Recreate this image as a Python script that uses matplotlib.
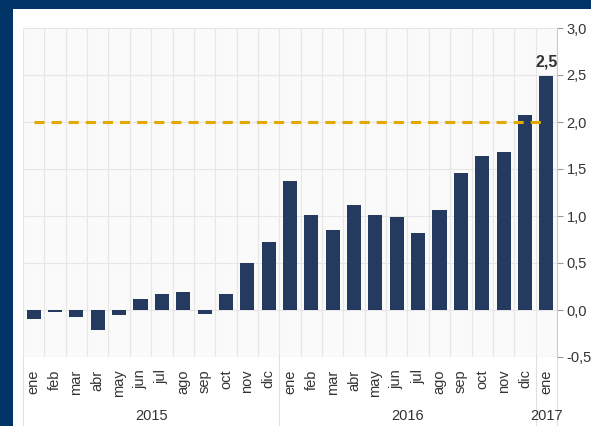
import numpy as np
import matplotlib
matplotlib.use('Agg')
import matplotlib.pyplot as plt
from matplotlib.patches import Rectangle
from matplotlib.ticker import FuncFormatter
import matplotlib.transforms as mtransforms

plt.rcParams['font.family'] = ['Liberation Sans', 'DejaVu Sans']

# datos
months = ['ene', 'feb', 'mar', 'abr', 'may', 'jun', 'jul', 'ago', 'sep', 'oct', 'nov', 'dic',
          'ene', 'feb', 'mar', 'abr', 'may', 'jun', 'jul', 'ago', 'sep', 'oct', 'nov', 'dic',
          'ene']
values = [-0.10, -0.02, -0.07, -0.21, -0.05, 0.12, 0.17, 0.19, -0.04, 0.17, 0.50, 0.72,
          1.37, 1.01, 0.85, 1.12, 1.01, 0.99, 0.82, 1.06, 1.46, 1.64, 1.68, 2.07,
          2.49]
years = ['2015', '2016', '2017']
year_counts = [12, 12, 1]
target = 2.0
last_label = '2,5'

W, H = 591, 426
fig = plt.figure(figsize=(W / 100, H / 100), dpi=100)
fig.patch.set_facecolor('#003366')
fig.patches.append(Rectangle((13 / W, 0), 1, (H - 9) / H, transform=fig.transFigure,
                             facecolor='white', edgecolor='none', zorder=-10))

ax = fig.add_axes([23 / W, (H - 357) / H, 534 / W, 329 / H])
ax.set_facecolor('#fafafa')

x = np.arange(len(values))
ax.bar(x, values, width=0.66, color='#243a5e', zorder=3)
ax.plot([x[0], x[-1]], [target, target], color='#e2aa00', lw=2.2,
        dashes=(3.3, 2.3), zorder=4)
ax.text(x[-1], values[-1] + 0.07, last_label, ha='center', va='bottom',
        fontsize=11.5, color='#333333', fontweight='bold')

ax.set_xlim(-0.5, len(values) - 0.5)
ax.set_ylim(-0.5, 3.0)
ax.set_yticks(np.arange(-0.5, 3.01, 0.5))
ax.yaxis.set_major_formatter(FuncFormatter(lambda v, p: f'{v:.1f}'.replace('.', ',')))
ax.yaxis.tick_right()
ax.tick_params(axis='y', length=4, color='#999999', labelsize=10.5, labelcolor='#333333', pad=3)

ax.set_xticks(x)
ax.set_xticklabels(months, rotation=90, fontsize=10.5, color='#333333')
ax.tick_params(axis='x', length=0, pad=9)

# rejilla
for xv in np.arange(-0.5, len(values), 1.0):
    ax.axvline(xv, color='#e6e6e6', lw=0.8, zorder=1)
for yv in np.arange(-0.5, 3.01, 0.5):
    ax.axhline(yv, color='#e6e6e6', lw=0.8, zorder=1)

for s in ['top', 'left', 'bottom']:
    ax.spines[s].set_visible(False)
ax.spines['right'].set_color('#cccccc')

# separadores y etiquetas de años
trans = mtransforms.blended_transform_factory(ax.transData, ax.transAxes)
start = -0.5
bottom_y = -(426 - 357) / 329
ax.plot([start, start], [0, bottom_y], color='#e0e0e0', lw=0.8, transform=trans, clip_on=False)
for yr, n in zip(years, year_counts):
    end = start + n
    ax.text((start + end) / 2, -0.178, yr, transform=trans, ha='center', va='center',
            fontsize=10.5, color='#333333')
    ax.plot([end, end], [0, bottom_y], color='#e0e0e0', lw=0.8, transform=trans, clip_on=False)
    start = end

fig.savefig('out.png', dpi=100, facecolor=fig.get_facecolor())
